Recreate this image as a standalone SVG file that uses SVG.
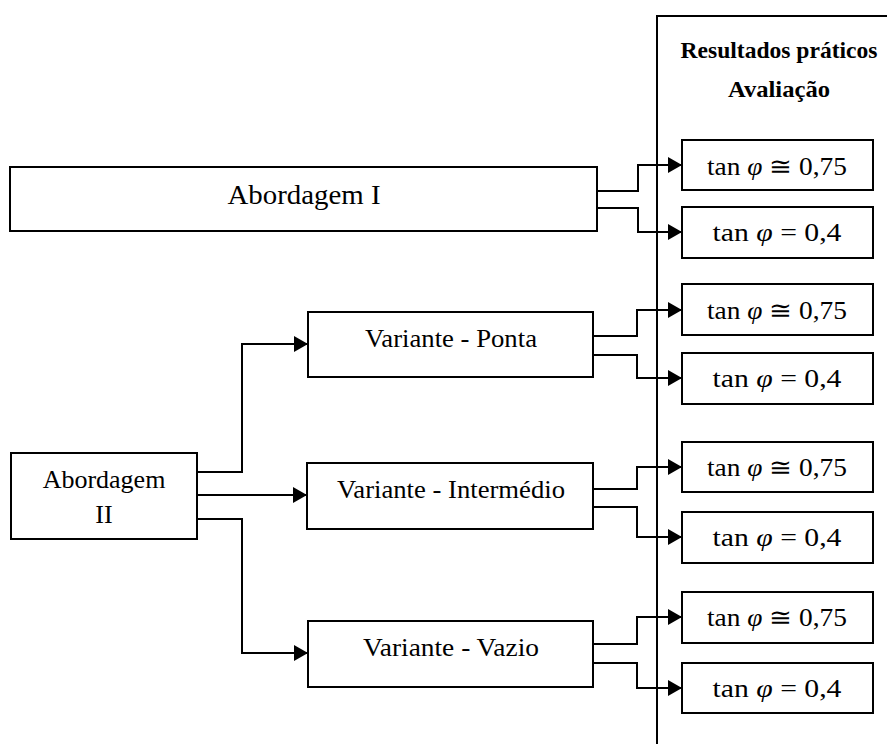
<svg xmlns="http://www.w3.org/2000/svg" width="887" height="744" viewBox="0 0 887 744">
<style>
.box{fill:#fff;stroke:#000;stroke-width:2}
.lbl{font-family:"Liberation Serif","Times New Roman",serif;font-size:26px;fill:#000;text-anchor:middle}
.big{font-size:28px}
.hdr{font-family:"Liberation Serif","Times New Roman",serif;font-size:23px;font-weight:bold;fill:#000;text-anchor:middle}
.mth{font-family:"Liberation Serif","Times New Roman",serif;font-size:25px;fill:#000;text-anchor:middle}
.conn{fill:none;stroke:#000;stroke-width:2;marker-end:url(#arr)}
.frame{fill:none;stroke:#000;stroke-width:2}
</style>
<defs>
<marker id="arr" markerUnits="userSpaceOnUse" markerWidth="14" markerHeight="16" viewBox="0 0 14 16" refX="14" refY="8" orient="auto">
<path d="M0,0 L14,8 L0,16 z" fill="#000"/>
</marker>
</defs>
<rect width="887" height="744" fill="#fff"/>
<g id="frame">
<path class="frame" d="M657,744 V16 H890"/>
<text class="hdr" x="779" y="58" textLength="197" lengthAdjust="spacingAndGlyphs">Resultados práticos</text>
<text class="hdr" x="779" y="97" textLength="102" lengthAdjust="spacingAndGlyphs">Avaliação</text>
</g>
<g id="connectors">
<path class="conn" d="M597,191 H638 V165 H682"/>
<path class="conn" d="M597,208 H638 V232 H682"/>
<path class="conn" d="M593,336 H637 V310 H682"/>
<path class="conn" d="M593,355 H637 V378 H682"/>
<path class="conn" d="M593,489 H637 V467 H682"/>
<path class="conn" d="M593,507 H637 V537 H682"/>
<path class="conn" d="M593,644 H637 V617 H682"/>
<path class="conn" d="M593,663 H637 V688 H682"/>
<path class="conn" d="M197,472 H242 V344 H308"/>
<path class="conn" d="M197,495 H307"/>
<path class="conn" d="M197,519 H242 V653 H308"/>
</g>
<g id="abordagem1">
<rect class="box" x="10" y="167" width="587" height="64"/>
<text class="lbl big" x="304" y="204" textLength="153" lengthAdjust="spacingAndGlyphs">Abordagem I</text>
</g>
<g id="abordagem2">
<rect class="box" x="11" y="453" width="186" height="86"/>
<text class="lbl" x="104" y="488">Abordagem</text>
<text class="lbl" x="104" y="523">II</text>
</g>
<g id="ponta">
<rect class="box" x="308" y="312" width="285" height="65"/>
<text class="lbl" x="451" y="347" textLength="172" lengthAdjust="spacingAndGlyphs">Variante - Ponta</text>
</g>
<g id="intermedio">
<rect class="box" x="307" y="463" width="286" height="66"/>
<text class="lbl" x="451" y="498" textLength="228" lengthAdjust="spacingAndGlyphs">Variante - Intermédio</text>
</g>
<g id="vazio">
<rect class="box" x="308" y="621" width="285" height="66"/>
<text class="lbl" x="451" y="656" textLength="176" lengthAdjust="spacingAndGlyphs">Variante - Vazio</text>
</g>
<g id="r1"><rect class="box" x="682" y="140" width="191" height="50"/><text class="mth" x="777" y="175" textLength="140" lengthAdjust="spacingAndGlyphs">tan <tspan font-style="italic">φ</tspan> ≅ 0,75</text></g>
<g id="r2"><rect class="box" x="682" y="207" width="191" height="51"/><text class="mth" x="777" y="241" textLength="129" lengthAdjust="spacingAndGlyphs">tan <tspan font-style="italic">φ</tspan> = 0,4</text></g>
<g id="r3"><rect class="box" x="682" y="284" width="191" height="51"/><text class="mth" x="777" y="319" textLength="140" lengthAdjust="spacingAndGlyphs">tan <tspan font-style="italic">φ</tspan> ≅ 0,75</text></g>
<g id="r4"><rect class="box" x="682" y="353" width="191" height="51"/><text class="mth" x="777" y="387" textLength="129" lengthAdjust="spacingAndGlyphs">tan <tspan font-style="italic">φ</tspan> = 0,4</text></g>
<g id="r5"><rect class="box" x="682" y="442" width="191" height="50"/><text class="mth" x="777" y="476" textLength="140" lengthAdjust="spacingAndGlyphs">tan <tspan font-style="italic">φ</tspan> ≅ 0,75</text></g>
<g id="r6"><rect class="box" x="682" y="512" width="191" height="51"/><text class="mth" x="777" y="546" textLength="129" lengthAdjust="spacingAndGlyphs">tan <tspan font-style="italic">φ</tspan> = 0,4</text></g>
<g id="r7"><rect class="box" x="682" y="592" width="191" height="51"/><text class="mth" x="777" y="626" textLength="140" lengthAdjust="spacingAndGlyphs">tan <tspan font-style="italic">φ</tspan> ≅ 0,75</text></g>
<g id="r8"><rect class="box" x="682" y="663" width="191" height="50"/><text class="mth" x="777" y="697" textLength="129" lengthAdjust="spacingAndGlyphs">tan <tspan font-style="italic">φ</tspan> = 0,4</text></g>
</svg>
